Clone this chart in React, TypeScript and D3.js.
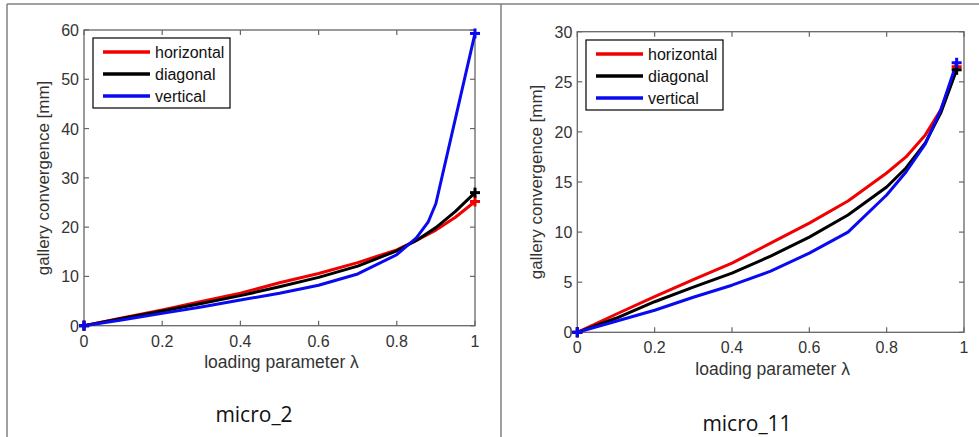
import React from "react";
import * as d3 from "d3";

// ---- data ----
const seriesNames = ["horizontal", "diagonal", "vertical"];
const seriesColors = ["#f00000", "#000000", "#0a0af0"];

// micro_2
const m2Lambda = [0, 0.1, 0.2, 0.3, 0.4, 0.5, 0.6, 0.7, 0.8, 0.85, 0.9, 0.95, 1];
const m2Horizontal = [0, 1.6, 3.2, 4.9, 6.6, 8.7, 10.6, 12.8, 15.4, 17.3, 19.4, 22.0, 25.2];
const m2Diagonal = [0, 1.5, 3.0, 4.5, 6.1, 7.9, 9.8, 12.1, 15.2, 17.3, 19.9, 23.2, 27.0];
const m2VerticalLambda = [0, 0.1, 0.2, 0.3, 0.4, 0.5, 0.6, 0.7, 0.8, 0.85, 0.88, 0.9, 1];
const m2Vertical = [0, 1.2, 2.5, 3.8, 5.2, 6.6, 8.2, 10.5, 14.4, 17.8, 21.0, 24.8, 59.3];

// micro_11
const m11Lambda = [0, 0.1, 0.2, 0.3, 0.4, 0.5, 0.6, 0.7, 0.8, 0.85, 0.9, 0.94, 0.981];
const m11Horizontal = [0, 1.8, 3.55, 5.25, 6.9, 8.9, 10.9, 13.1, 15.9, 17.5, 19.7, 22.2, 26.5];
const m11Diagonal = [0, 1.4, 3.05, 4.5, 5.9, 7.6, 9.5, 11.7, 14.5, 16.4, 18.9, 21.9, 26.2];
const m11Vertical = [0, 1.1, 2.2, 3.5, 4.7, 6.1, 7.9, 10.0, 13.7, 16.0, 18.8, 22.2, 26.9];

const xTicks = [0, 0.2, 0.4, 0.6, 0.8, 1];
const xTickLabels = ["0", "0.2", "0.4", "0.6", "0.8", "1"];
const m2YTicks = [0, 10, 20, 30, 40, 50, 60];
const m11YTicks = [0, 5, 10, 15, 20, 25, 30];

const xLabel = "loading parameter λ";
const yLabel = "gallery convergence [mm]";

type Series = { xs: number[]; ys: number[] };

type PanelProps = {
  left: number; right: number; top: number; bottom: number;
  yMax: number; yTicks: number[];
  series: Series[];
  legend: { x0: number; x1: number; y0: number; y1: number };
  yLabelX: number; yLabelY: number; xLabelY: number;
  caption: string; captionX: number; captionY: number;
};

const axisFont = "'Liberation Sans', Arial, sans-serif";

function Plus({ x, y, color }: { x: number; y: number; color: string }) {
  const s = 5;
  return (
    <g stroke={color} strokeWidth={3}>
      <line x1={x - s} x2={x + s} y1={y} y2={y} />
      <line x1={x} x2={x} y1={y - s} y2={y + s} />
    </g>
  );
}

function Panel(p: PanelProps) {
  const x = d3.scaleLinear().domain([0, 1]).range([p.left, p.right]);
  const y = d3.scaleLinear().domain([0, p.yMax]).range([p.bottom, p.top]);
  const tl = 5;
  const axisColor = "#666";
  const textColor = "#333";
  const line = d3.line<[number, number]>().x((d) => x(d[0])).y((d) => y(d[1]));
  const rowY = [0, 1, 2].map((i) => p.legend.y0 + 14 + i * 22);
  return (
    <g>
      {/* box */}
      <rect x={p.left} y={p.top} width={p.right - p.left} height={p.bottom - p.top}
        fill="white" stroke={axisColor} strokeWidth={1.3} />
      {/* x ticks */}
      {xTicks.map((t, i) => (
        <g key={"xt" + i}>
          <line x1={x(t)} x2={x(t)} y1={p.bottom} y2={p.bottom - tl} stroke={axisColor} strokeWidth={1.2} />
          <line x1={x(t)} x2={x(t)} y1={p.top} y2={p.top + tl} stroke={axisColor} strokeWidth={1.2} />
          <text x={x(t)} y={p.bottom + 21} textAnchor="middle" fontSize={16} fill={textColor}
            fontFamily={axisFont}>{xTickLabels[i]}</text>
        </g>
      ))}
      {/* y ticks */}
      {p.yTicks.map((t, i) => (
        <g key={"yt" + i}>
          <line x1={p.left} x2={p.left + tl} y1={y(t)} y2={y(t)} stroke={axisColor} strokeWidth={1.2} />
          <line x1={p.right} x2={p.right - tl} y1={y(t)} y2={y(t)} stroke={axisColor} strokeWidth={1.2} />
          <text x={p.left - 5} y={y(t) + 6} textAnchor="end" fontSize={16} fill={textColor}
            fontFamily={axisFont}>{t}</text>
        </g>
      ))}
      {/* lines */}
      {p.series.map((s, i) => (
        <path key={"l" + i} d={line(s.xs.map((v, j) => [v, s.ys[j]]) as [number, number][]) || ""}
          fill="none" stroke={seriesColors[i]} strokeWidth={3} strokeLinejoin="round" />
      ))}
      {/* markers */}
      {p.series.map((s, i) => (
        <g key={"m" + i}>
          <Plus x={x(s.xs[0])} y={y(s.ys[0])} color={seriesColors[i]} />
          <Plus x={x(s.xs[s.xs.length - 1])} y={y(s.ys[s.ys.length - 1])} color={seriesColors[i]} />
        </g>
      ))}
      {/* legend */}
      <rect x={p.legend.x0} y={p.legend.y0} width={p.legend.x1 - p.legend.x0}
        height={p.legend.y1 - p.legend.y0} fill="white" stroke="#000" strokeWidth={1.2} />
      {seriesNames.map((n, i) => (
        <g key={"lg" + i}>
          <line x1={p.legend.x0 + 10} x2={p.legend.x0 + 57} y1={rowY[i]} y2={rowY[i]}
            stroke={seriesColors[i]} strokeWidth={3.5} />
          <text x={p.legend.x0 + 62} y={rowY[i] + 6} fontSize={16} fill="#111" fontFamily={axisFont}>{n}</text>
        </g>
      ))}
      {/* axis labels */}
      <text x={(p.left + p.right) / 2 + 2} y={p.xLabelY} textAnchor="middle" fontSize={17.5}
        fill={textColor} fontFamily={axisFont}>{xLabel}</text>
      <text transform={`translate(${p.yLabelX},${p.yLabelY}) rotate(-90)`} textAnchor="middle"
        fontSize={17} fill={textColor} fontFamily={axisFont}>{yLabel}</text>
      {/* caption */}
      <text x={p.captionX} y={p.captionY} textAnchor="middle" fontSize={21} fill="#111"
        fontFamily="'Open Sans', 'Noto Sans', sans-serif">{p.caption}</text>
    </g>
  );
}

export default function App() {
  const frame = "#808080";
  return (
    <svg width={979} height={437} style={{ position: "absolute", left: 0, top: 0, background: "white" }}>
      <rect x={0} y={0} width={979} height={437} fill="white" />
      <line x1={7} x2={979} y1={4} y2={4} stroke={frame} strokeWidth={1.5} />
      <line x1={7} x2={7} y1={4} y2={437} stroke={frame} strokeWidth={1.5} />
      <line x1={501} x2={501} y1={4} y2={437} stroke={frame} strokeWidth={1.5} />
      <Panel
        left={84} right={475} top={30} bottom={325.7}
        yMax={60} yTicks={m2YTicks}
        series={[
          { xs: m2Lambda, ys: m2Horizontal },
          { xs: m2Lambda, ys: m2Diagonal },
          { xs: m2VerticalLambda, ys: m2Vertical },
        ]}
        legend={{ x0: 93, x1: 230, y0: 38, y1: 108 }}
        yLabelX={49} yLabelY={178} xLabelY={368}
        caption="micro_2" captionX={254} captionY={422}
      />
      <Panel
        left={577.3} right={964} top={31.7} bottom={332.3}
        yMax={30} yTicks={m11YTicks}
        series={[
          { xs: m11Lambda, ys: m11Horizontal },
          { xs: m11Lambda, ys: m11Diagonal },
          { xs: m11Lambda, ys: m11Vertical },
        ]}
        legend={{ x0: 586, x1: 723, y0: 40, y1: 110 }}
        yLabelX={542} yLabelY={182} xLabelY={375}
        caption="micro_11" captionX={747} captionY={431}
      />
    </svg>
  );
}
